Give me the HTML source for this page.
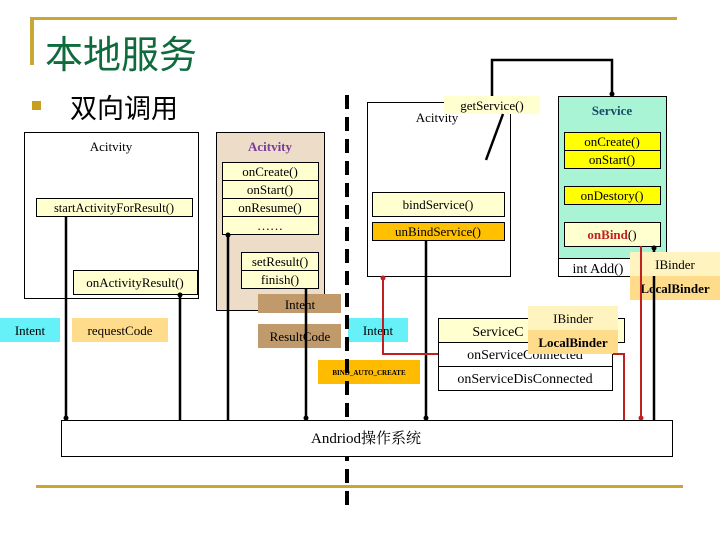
<!DOCTYPE html>
<html><head><meta charset="utf-8"><style>
body{margin:0;background:#fff}
svg{display:block}
text{font-family:"Liberation Serif","Noto Serif CJK SC",serif;font-size:13px;fill:#000}
.cjk{font-family:"Liberation Sans","Noto Sans CJK SC",sans-serif}
</style></head><body>
<svg width="720" height="540" viewBox="0 0 720 540" xmlns="http://www.w3.org/2000/svg">
<rect x="30" y="17" width="647" height="3" fill="#c8a832"/>
<rect x="30" y="17" width="4" height="48" fill="#c8a832"/>
<rect x="36" y="485" width="647" height="3" fill="#c8a832"/>
<text x="45" y="68" class="cjk" style="font-size:38px;fill:#0f6b3c">本地服务</text>
<rect x="32" y="101" width="9" height="9" fill="#c8a020"/>
<text x="70" y="118" class="cjk" style="font-size:27px">双向调用</text>

<rect x="24.5" y="132.5" width="174" height="166" fill="#fff" stroke="#000"/>
<text x="111" y="151" text-anchor="middle">Acitvity</text>
<rect x="36.5" y="198.5" width="156" height="18" fill="#ffffd0" stroke="#000"/>
<text x="114" y="212" text-anchor="middle" style="font-size:12.5px">startActivityForResult()</text>
<rect x="73.5" y="270.5" width="124" height="24" fill="#ffffd0" stroke="#000"/>
<text x="135" y="287" text-anchor="middle">onActivityResult()</text>

<rect x="216.5" y="132.5" width="108" height="178" fill="#ecdcc8" stroke="#000"/>
<text x="270" y="151" text-anchor="middle" style="font-weight:bold;fill:#7a3a9a">Acitvity</text>
<rect x="222.5" y="162.5" width="96" height="72" fill="#ffffd0" stroke="#000"/>
<line x1="222" y1="180.5" x2="318" y2="180.5" stroke="#000"/>
<line x1="222" y1="198.5" x2="318" y2="198.5" stroke="#000"/>
<line x1="222" y1="216.5" x2="318" y2="216.5" stroke="#000"/>
<text x="270" y="176" text-anchor="middle">onCreate()</text>
<text x="270" y="194" text-anchor="middle">onStart()</text>
<text x="270" y="212" text-anchor="middle">onResume()</text>
<text x="270" y="230" text-anchor="middle">……</text>
<rect x="241.5" y="252.5" width="77" height="36" fill="#ffffd0" stroke="#000"/>
<line x1="241" y1="270.5" x2="318" y2="270.5" stroke="#000"/>
<text x="280" y="266" text-anchor="middle">setResult()</text>
<text x="280" y="284" text-anchor="middle">finish()</text>
<rect x="258" y="294" width="83" height="19" fill="#c09a6a"/>
<text x="300" y="309" text-anchor="middle">Intent</text>
<rect x="258" y="324" width="83" height="24" fill="#c09a6a"/>
<text x="300" y="341" text-anchor="middle">ResultCode</text>

<rect x="0" y="318" width="60" height="24" fill="#66f0f8"/>
<text x="30" y="335" text-anchor="middle">Intent</text>
<rect x="72" y="318" width="96" height="24" fill="#ffdc8c"/>
<text x="120" y="335" text-anchor="middle">requestCode</text>
<rect x="348" y="318" width="60" height="24" fill="#66f0f8"/>
<text x="378" y="335" text-anchor="middle">Intent</text>
<rect x="318" y="360" width="102" height="24" fill="#ffbb00"/>
<text x="369" y="375" text-anchor="middle" style="font-size:7px;font-weight:bold">BIND_AUTO_CREATE</text>

<rect x="367.5" y="102.5" width="143" height="174" fill="#fff" stroke="#000"/>
<text x="437" y="122" text-anchor="middle">Acitvity</text>
<rect x="444" y="96" width="96" height="18" fill="#ffffd0"/>
<text x="492" y="110" text-anchor="middle">getService()</text>
<polyline points="492,96 492,60 612,60 612,96" fill="none" stroke="#000" stroke-width="2.5"/>
<circle cx="612" cy="94" r="2.5" fill="#000"/>
<line x1="503" y1="114" x2="486" y2="160" stroke="#000" stroke-width="2.5"/>
<rect x="372.5" y="192.5" width="132" height="24" fill="#ffffd0" stroke="#000"/>
<text x="438" y="209" text-anchor="middle">bindService()</text>
<rect x="372.5" y="222.5" width="132" height="18" fill="#ffc000" stroke="#000"/>
<text x="438" y="236" text-anchor="middle">unBindService()</text>

<rect x="558.5" y="96.5" width="108" height="162" fill="#a8f4d4" stroke="#000"/>
<text x="612" y="115" text-anchor="middle" style="font-weight:bold;fill:#1a4a6a">Service</text>
<rect x="564.5" y="132.5" width="96" height="36" fill="#ffff00" stroke="#000"/>
<line x1="564" y1="150.5" x2="660" y2="150.5" stroke="#000"/>
<text x="612" y="146" text-anchor="middle">onCreate()</text>
<text x="612" y="164" text-anchor="middle">onStart()</text>
<rect x="564.5" y="186.5" width="96" height="18" fill="#ffff00" stroke="#000"/>
<text x="612" y="200" text-anchor="middle">onDestory()</text>
<rect x="564.5" y="222.5" width="96" height="24" fill="#ffffd0" stroke="#000"/>
<text x="612" y="239" text-anchor="middle"><tspan style="font-weight:bold;fill:#c02020">onBind</tspan>()</text>
<rect x="558.5" y="258.5" width="84" height="18" fill="#fff" stroke="#000"/>
<text x="598" y="273" text-anchor="middle" style="font-size:14px">int Add()</text>

<rect x="438.5" y="318.5" width="186" height="24" fill="#ffffd0" stroke="#000"/>
<text x="498" y="336" style="font-size:14px" text-anchor="middle">ServiceC</text>
<rect x="438.5" y="342.5" width="174" height="24" fill="#fff" stroke="#000"/>
<text x="525" y="359" text-anchor="middle" style="font-size:14px">onServiceConnected</text>
<rect x="438.5" y="366.5" width="174" height="24" fill="#fff" stroke="#000"/>
<text x="525" y="383" text-anchor="middle" style="font-size:14px">onServiceDisConnected</text>
<rect x="528" y="306" width="90" height="24" fill="#fff4c0"/>
<text x="573" y="323" text-anchor="middle">IBinder</text>
<rect x="528" y="330" width="90" height="24" fill="#ffdc8c"/>
<text x="573" y="347" text-anchor="middle" style="font-weight:bold">LocalBinder</text>

<g stroke="#000" stroke-width="2.5">
<line x1="66" y1="216" x2="66" y2="420"/>
<line x1="180" y1="294" x2="180" y2="420"/>
<line x1="228" y1="234" x2="228" y2="420"/>
<line x1="306" y1="288" x2="306" y2="420"/>
<line x1="426" y1="240" x2="426" y2="420"/>
<line x1="654" y1="246" x2="654" y2="420"/>
</g>
<g fill="#000"><circle cx="66" cy="418" r="2.5"/><circle cx="180" cy="295" r="2.5"/><circle cx="228" cy="235" r="2.5"/><circle cx="306" cy="418" r="2.5"/><circle cx="426" cy="418" r="2.5"/><circle cx="654" cy="248" r="2.5"/></g>
<g stroke="#c02020" stroke-width="2" fill="none">
<polyline points="383,278 383,354 438,354"/>
<polyline points="613,354 624,354 624,420"/>
<line x1="641" y1="246" x2="641" y2="420"/>
</g>
<circle cx="383" cy="278" r="2.5" fill="#c02020"/>
<circle cx="641" cy="418" r="2.5" fill="#c02020"/>

<rect x="630" y="252" width="90" height="24" fill="#fff4c0"/>
<text x="675" y="269" text-anchor="middle">IBinder</text>
<rect x="630" y="276" width="90" height="24" fill="#ffdc8c"/>
<text x="675" y="293" text-anchor="middle" style="font-weight:bold">LocalBinder</text>
<line x1="641" y1="252" x2="641" y2="300" stroke="#c02020" stroke-width="2"/>
<line x1="654" y1="276" x2="654" y2="300" stroke="#000" stroke-width="2.5"/>

<line x1="347" y1="95" x2="347" y2="510" stroke="#000" stroke-width="4" stroke-dasharray="14,8"/>

<rect x="61.5" y="420.5" width="611" height="36" fill="#fff" stroke="#000"/>
<text x="366" y="443" text-anchor="middle" style="font-size:15px">Andriod操作系统</text>
</svg>
</body></html>
